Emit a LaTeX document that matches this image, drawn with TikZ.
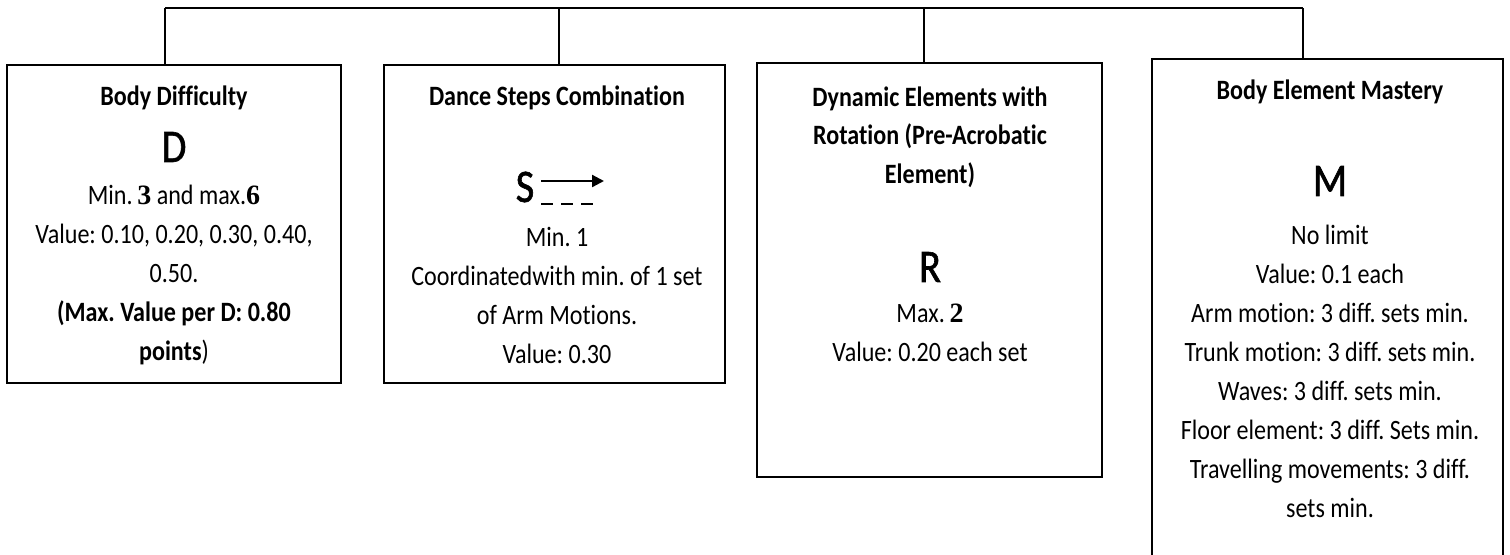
\documentclass[tikz,border=0pt]{standalone}
\usepackage{fontspec}
\setmainfont{Carlito}[FakeStretch=0.86,Ligatures=NoCommon]
\newfontfamily\bigletter{Carlito}[FakeStretch=0.86,FakeBold=1.3]
\newfontfamily\tnr{Liberation Serif}
\usetikzlibrary{arrows.meta}
\frenchspacing
\begin{document}
\begin{tikzpicture}[x=0.75pt,y=-0.75pt,
  box/.style={draw, line width=1.1pt, inner sep=0pt},
  link/.style={draw, line width=0.9pt},
  txt/.style={align=center, inner sep=0pt, font=\fontsize{21}{29.25}\selectfont},
  ttl/.style={align=center, inner sep=0pt, font=\fontsize{21}{28.9}\selectfont\bfseries},
  big/.style={inner sep=0pt, font=\bigletter\fontsize{35}{40}\selectfont}]
\clip (0,0) rectangle (1510,554);
\fill[white] (0,0) rectangle (1510,554);

% boxes
\node[box, minimum width=250.5pt, minimum height=238.5pt] (b1) at (174,224) {};
\node[box, minimum width=255.75pt, minimum height=238.5pt] (b2) at (554.5,224) {};
\node[box, minimum width=258.75pt, minimum height=310.5pt] (b3) at (929.5,270) {};
\node[box, minimum width=263.25pt, minimum height=383.25pt] (b4) at (1327.5,314.5) {};

% connectors
\coordinate (t1) at (165,8);
\coordinate (t2) at (559,8);
\coordinate (t3) at (924,8);
\coordinate (t4) at (1303,8);
\draw[link] (t1) -- (t4);
\draw[link] (t1) -- (t1 |- b1.north);
\draw[link] (t2) -- (t2 |- b2.north);
\draw[link] (t3) -- (t3 |- b3.north);
\draw[link] (t4) -- (t4 |- b4.north);

% box 1
\node[ttl] (h1) at (174,98) {Body Difficulty};
\node[big] (l1) at (174,147) {D};
\node[txt] (x1) at (174,275) {Min.\,{\tnr\bfseries 3} and max.{\tnr\bfseries 6}\\Value: 0.10, 0.20, 0.30, 0.40,\\0.50.\\{\bfseries(Max. Value per D: 0.80}\\{\bfseries points})};

% box 2
\node[ttl] (h2) at (557,98) {Dance Steps Combination};
\node[big] (l2) at (525,187) {S};
\coordinate (a1) at (541,181);
\coordinate (a2) at (604,181);
\coordinate (d1) at (541,204);
\coordinate (d2) at (596,204);
\draw[line width=1.7pt, -{Triangle[length=9pt,width=9pt]}] (a1) -- (a2);
\draw[line width=1.1pt, dash pattern=on 9pt off 6pt] (d1) -- (d2);
\node[txt] (x2) at (557,295) {Min. 1\\Coordinatedwith min. of 1 set\\of Arm Motions.\\Value: 0.30};

% box 3
\node[ttl] (h3) at (930,137) {Dynamic Elements with\\Rotation (Pre-Acrobatic\\Element)};
\node[big] (l3) at (930,267) {R};
\node[txt] (x3) at (930,333) {Max.\,{\tnr\bfseries 2}\\Value: 0.20 each set};

% box 4
\node[ttl] (h4) at (1330,92) {Body Element Mastery};
\node[big] (l4) at (1330,181) {M};
\node[txt] (x4) at (1330,371.5) {No limit\\Value: 0.1 each\\Arm motion: 3 diff. sets min.\\Trunk motion: 3 diff. sets min.\\Waves: 3 diff. sets min.\\Floor element: 3 diff. Sets min.\\Travelling movements: 3 diff.\\sets min.};
\end{tikzpicture}
\end{document}
